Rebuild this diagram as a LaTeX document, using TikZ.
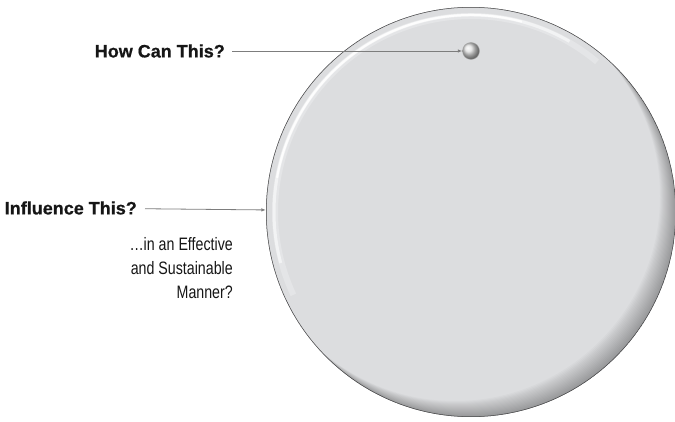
\documentclass[tikz,border=0pt]{standalone}
\usepackage{fontspec}
\setmainfont{Liberation Sans}[FakeStretch=0.79]
\newfontfamily\headfont{Liberation Sans}[FakeStretch=1.0, FakeBold=0.6]
\usetikzlibrary{arrows.meta,positioning}
\definecolor{discgray}{RGB}{220,221,223}
\definecolor{rimgray}{RGB}{120,120,122}
\definecolor{linegray}{RGB}{125,125,125}
\definecolor{inkblack}{RGB}{22,22,22}
\pgfdeclareradialshading{discrim}{\pgfpoint{0bp}{0bp}}{%
  color(0bp)=(discgray); color(46bp)=(discgray); color(47.8bp)=(discgray!70!rimgray);
  color(49.4bp)=(rimgray); color(50bp)=(rimgray!70!black)}
\tikzset{
  pointer/.style={-{Latex[length=4.5pt,width=3.5pt]}, draw=linegray, line width=0.8pt},
  question/.style={font=\headfont\bfseries\fontsize{18}{21}\selectfont, text=inkblack, inner sep=0pt},
  remark/.style={font=\fontsize{18}{24}\selectfont, text=inkblack, align=right, inner sep=0pt},
  disk/.style={circle, minimum size=410pt, inner sep=0pt, shading=discrim},
  knobball/.style={circle, minimum size=17pt, inner sep=0pt, ball color=gray!25, draw=gray!70, line width=0.4pt}
}
\begin{document}
\begin{tikzpicture}[x=1pt,y=1pt]
  \useasboundingbox (0,0) rectangle (675,421);
  % Big disc: shaded rim, darker at the lower right.
  \node[disk] (disc) at (471,209) {};
  \begin{scope}
    \clip (disc.center) circle (205);
    \foreach \s in {1,...,16}
      \fill[black, opacity=0.02, even odd rule] (disc.center) circle (205) (disc.center) ++(-\s,\s) circle (205);
  \end{scope}
  % Highlight along the upper left.
  \draw[white, line width=6pt, opacity=0.25] (disc.center) ++(50:196) arc (50:205:196);
  \draw[white, line width=3pt, opacity=0.55] (disc.center) ++(60:197) arc (60:195:197);
  \draw[white, line width=2pt, opacity=0.85] (disc.center) ++(75:197) arc (75:170:197);
  \draw[rimgray!60!black, line width=0.5pt] (disc.center) circle (204.7);

  % Small sphere at the top.
  \node[knobball] (knob) at (471,370) {};

  % Questions and remark.
  \node[question, anchor=east] (how) at (225,370) {How Can This?};
  \node[question, anchor=east] (influence) at (137,213) {Influence This?};
  \node[remark, anchor=north east] (manner) at (233,184) {…in an Effective\\and Sustainable\\Manner?};

  % Pointers.
  \draw[pointer, shorten <=7pt] (how) -- (knob);
  \draw[pointer, shorten <=8pt] (influence) -- (disc);
\end{tikzpicture}
\end{document}
